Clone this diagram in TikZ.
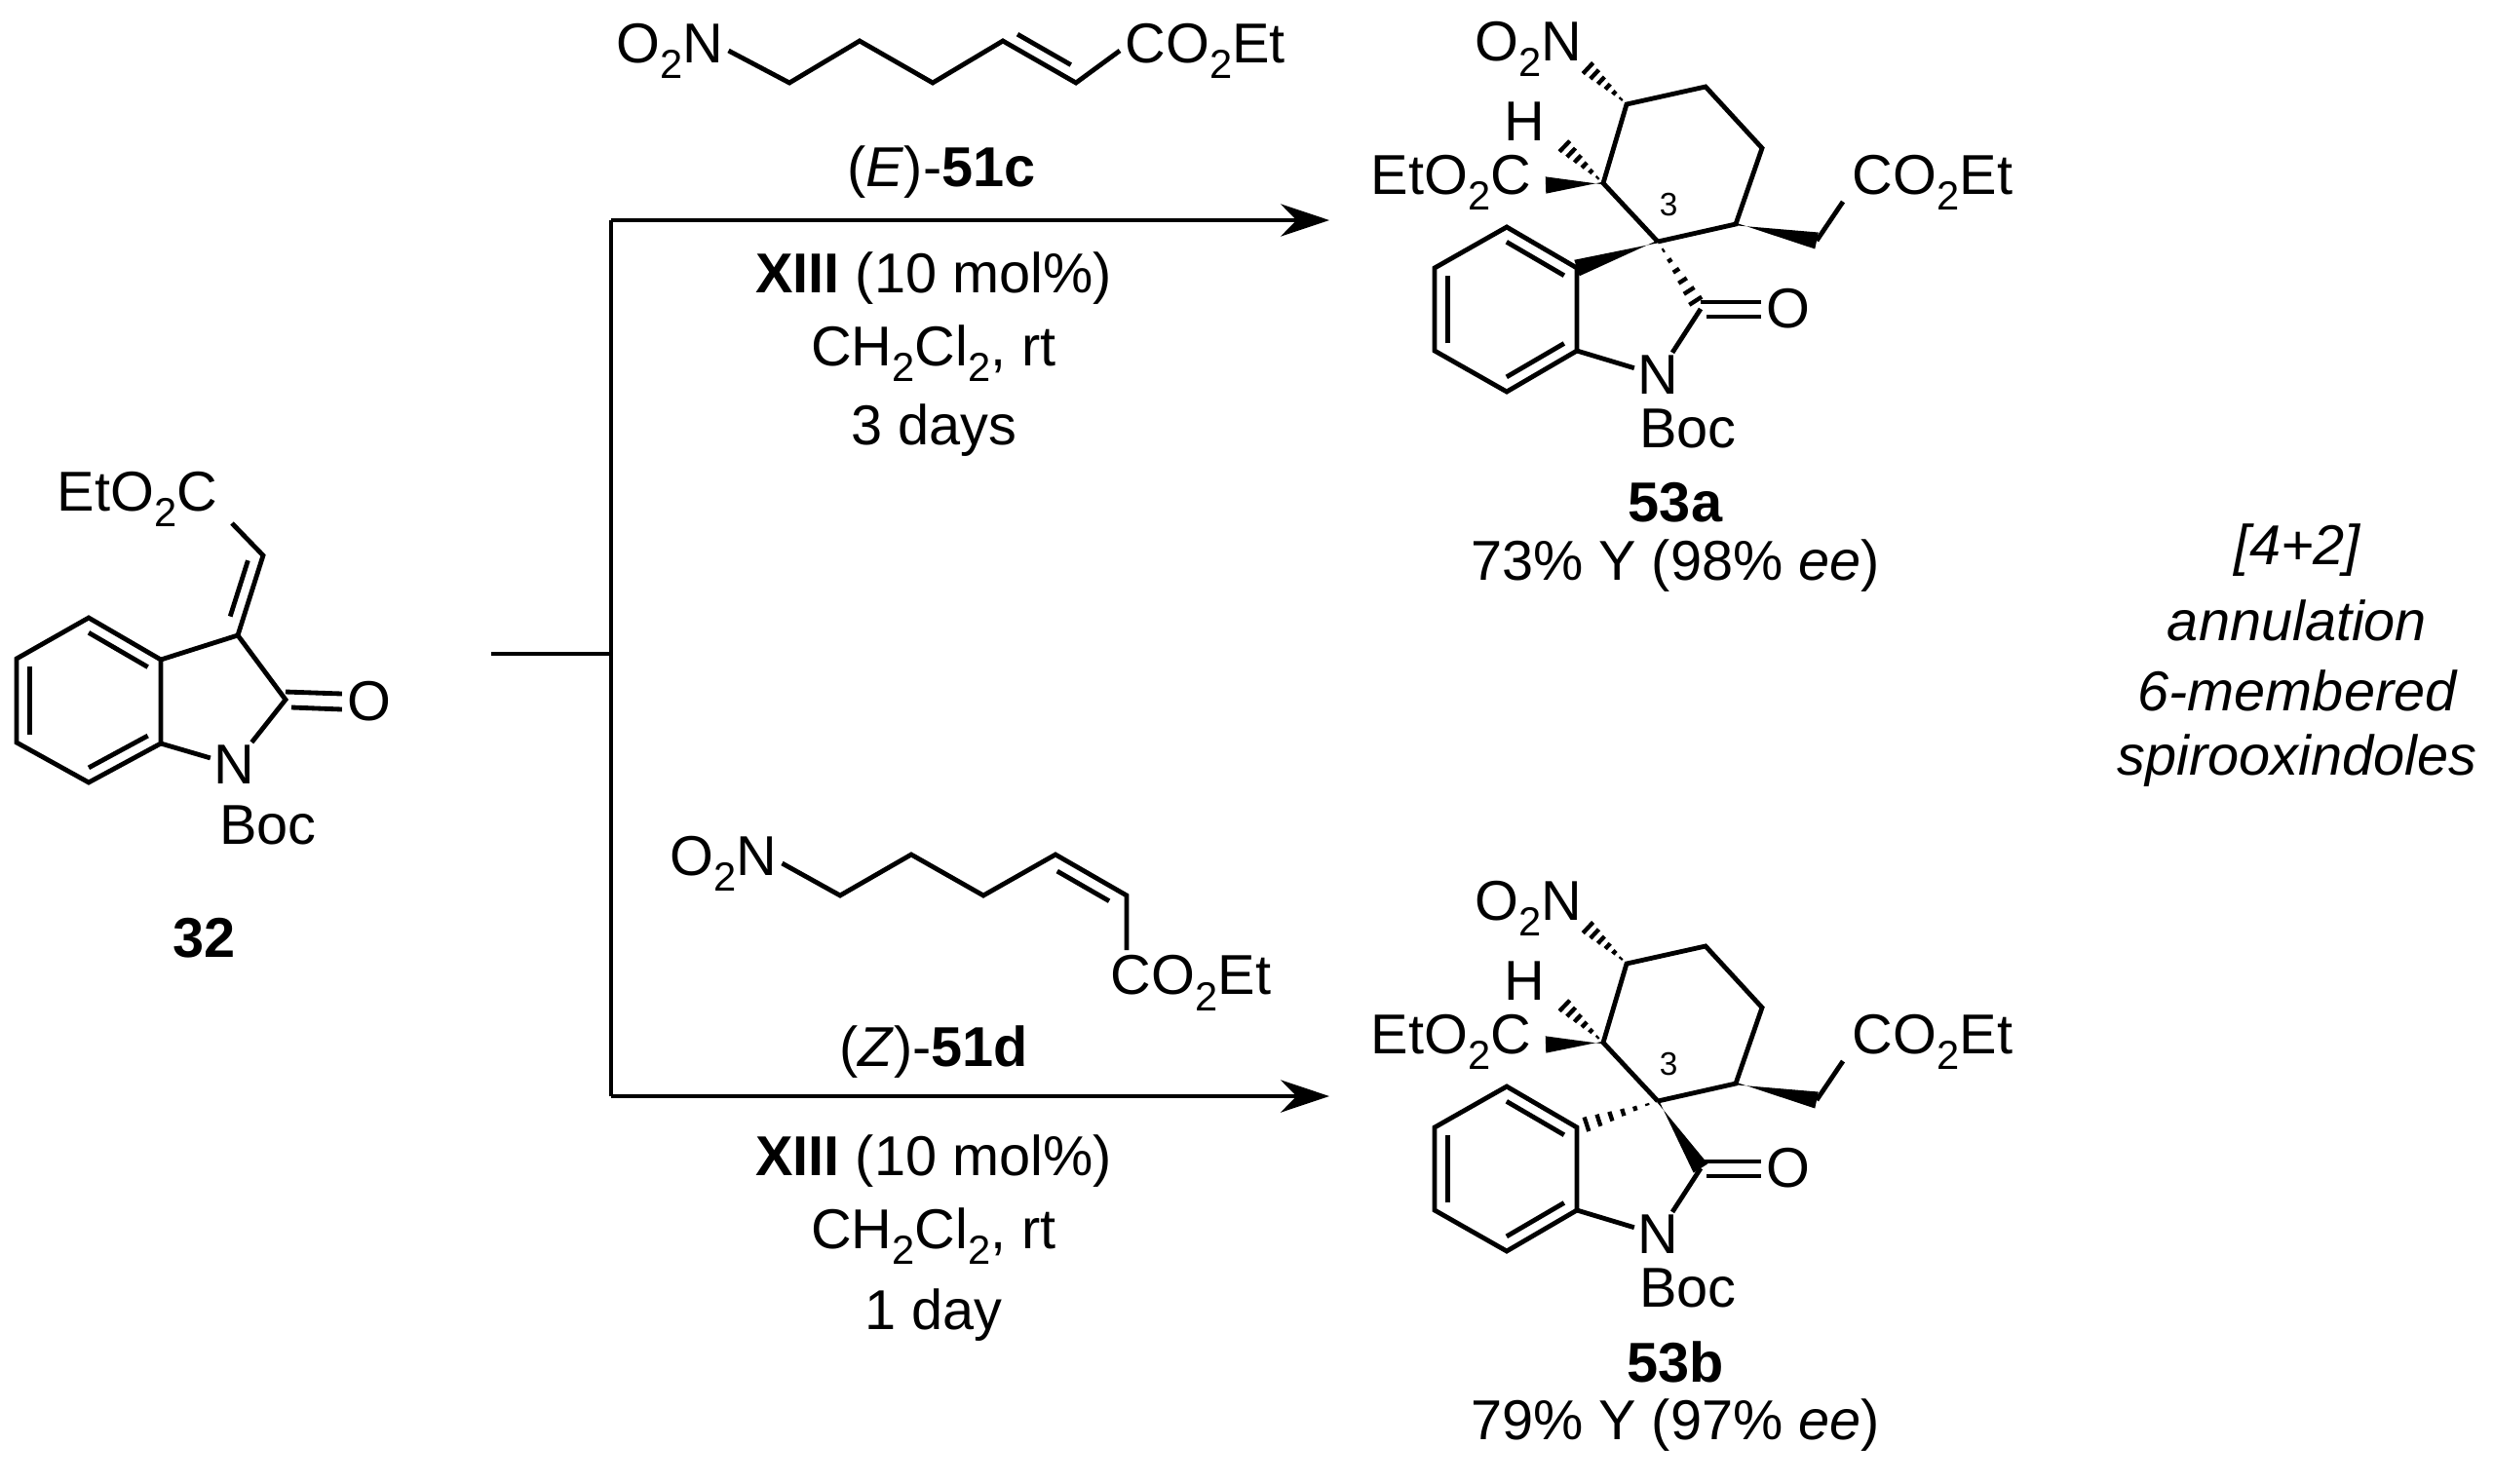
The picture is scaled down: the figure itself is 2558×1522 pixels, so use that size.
\documentclass[tikz,border=0pt]{standalone}
\usepackage{fontspec}
\setmainfont{Liberation Sans}
\usetikzlibrary{calc,arrows.meta}
\newcommand\sbs[1]{\raisebox{-0.28em}{\fontsize{12.5}{12.5}\selectfont #1}}
\newcommand\chemfont{\fontsize{17.3}{20}\selectfont}
\tikzset{
 bond/.style={line width=1.45pt},
 lbl/.style={inner sep=1.5pt, font=\chemfont},
 txt/.style={inner sep=0pt, font=\chemfont},
 arr/.style={line width=1.15pt, -{Stealth[length=15pt,width=10pt]}},
 plain/.style={line width=1.15pt},
}
\newcommand\wdg[2]{\fill ($#1!0.4pt!90:#2$) -- ($#2!2.6pt!90:#1$) -- ($#2!2.6pt!-90:#1$) -- ($#1!0.4pt!-90:#2$) -- cycle;}
\newcommand\hsh[2]{\foreach \t [evaluate=\t as \w using {\t*2.6}] in {0.13,0.28,0.43,0.58,0.73,0.88}{\draw[line width=1.3pt] ($#1!\t!#2!\w pt!90:#2$) -- ($#1!\t!#2!\w pt!-90:#2$);}}
\newcommand\inner[3]{\draw[bond] ($#3!0.82!#1$) -- ($#3!0.82!#2$);}
\newcommand\product[6]{
\begin{scope}[shift={(0,#1)}]
\coordinate (#2P1) at (1546,233); \coordinate (#2P2) at (1618,275);
\coordinate (#2P3) at (1618,360); \coordinate (#2P4) at (1546,402);
\coordinate (#2P5) at (1472,360); \coordinate (#2P6) at (1472,275);
\coordinate (#2Pc) at (1545,318);
\coordinate (#2C3) at (1701,248); \coordinate (#2C2) at (1745,317);
\coordinate (#2C4) at (1645,188); \coordinate (#2C5) at (1669,107);
\coordinate (#2C6) at (1750,89); \coordinate (#2C7) at (1808,152);
\coordinate (#2C8) at (1781,230);
\coordinate (#2Ee) at (1586,190); \coordinate (#2He) at (1600,145);
\coordinate (#2Ne) at (1624,65); \coordinate (#2Me) at (1864,247);
\coordinate (#2Mf) at (1891,207);
\node[lbl,inner sep=0.8pt] (#2N) at (1701,385) {N};
\node[lbl] (#2O) at (1835,317) {O};
\node[txt] (#2Boc) at (1732,440) {Boc};
\node[txt] (#2E) at (1489,187) {EtO\sbs2C};
\node[txt] (#2H) at (1564,125) {H};
\node[txt] (#2NO) at (1568,50) {O\sbs2N};
\node[txt] (#2CO) at (1983,187) {CO\sbs2Et};
\node[inner sep=0pt,font=\fontsize{10}{12}\selectfont] (#2three) at (1712,210) {3};
\draw[bond,line join=miter] (#2P1) -- (#2P2) -- (#2P3) -- (#2P4) -- (#2P5) -- (#2P6) -- cycle;
\inner{(#2P1)}{(#2P2)}{(#2Pc)} \inner{(#2P5)}{(#2P6)}{(#2Pc)} \inner{(#2P3)}{(#2P4)}{(#2Pc)}
\draw[bond] (#2P3) -- (#2N) -- (#2C2);
\draw[bond,line join=miter] (#2C3) -- (#2C4) -- (#2C5) -- (#2C6) -- (#2C7) -- (#2C8) -- (#2C3);
\draw[bond] ($(#2C2)+(0,-7)$) -- ($(#2O.west)+(0,-7)$);
\draw[bond] ($(#2C2)+(6,8)$) -- ($(#2O.west)+(0,8)$);
#3{(#2C3)}{(#2P2)}
#4{(#2C3)}{(#2C2)}
\wdg{(#2C4)}{(#2Ee)}
\hsh{(#2C4)}{(#2He)}
\hsh{(#2C5)}{(#2Ne)}
\wdg{(#2C8)}{(#2Me)}
\draw[bond] (#2Me) -- (#2Mf);
\node[txt,font=\chemfont\bfseries] (#2lab) at (1719,516) {#5};
\node[txt] (#2yld) at (1719,581) {#6};
\end{scope}}
\begin{document}
\begin{tikzpicture}[x=0.3pt,y=-0.3pt]
\useasboundingbox (0,0) rectangle (2558,1522);
% ---- compound 32
\coordinate (b1) at (91,634); \coordinate (b2) at (165,677);
\coordinate (b3) at (165,763); \coordinate (b4) at (91,803);
\coordinate (b5) at (17,762); \coordinate (b6) at (17,676);
\coordinate (bc) at (91,719);
\coordinate (s3) at (244,652); \coordinate (s2) at (293,718);
\coordinate (sch) at (270,570); \coordinate (sce) at (238,537);
\node[lbl,inner sep=0.8pt] (sN) at (240,785) {N};
\node[lbl] (sO) at (379,720) {O};
\node[txt] (sE) at (141,512) {EtO\sbs2C};
\node[txt] (sBoc) at (275,847) {Boc};
\node[txt,font=\chemfont\bfseries] (sL) at (210,963) {32};
\draw[bond,line join=miter] (b1) -- (b2) -- (b3) -- (b4) -- (b5) -- (b6) -- cycle;
\inner{(b1)}{(b2)}{(bc)} \inner{(b5)}{(b6)}{(bc)} \inner{(b3)}{(b4)}{(bc)}
\draw[bond,line join=miter] (b2) -- (s3) -- (s2) -- (sN) -- (b3);
\draw[bond,line join=miter] (s3) -- (sch) -- (sce);
\draw[bond] ($(s3)!0.2!(sch)+(-13,-3)$) -- ($(s3)!0.9!(sch)+(-13,-3)$);
\draw[bond] ($(s2)+(0,-8)$) -- ($(sO.west)+(0,-8)$);
\draw[bond] ($(s2)+(6,8)$) -- ($(sO.west)+(0,8)$);
% ---- arrows
\coordinate (vt) at (627,226); \coordinate (vb) at (627,1125);
\coordinate (st) at (504,671); \coordinate (sm) at (627,671);
\coordinate (at) at (1364,226); \coordinate (ab) at (1364,1125);
\draw[plain] (st) -- (sm);
\draw[plain] (vt) -- (vb);
\draw[arr] (vt) -- (at);
\draw[arr] (vb) -- (ab);
% ---- top reagent
\node[lbl] (tN) at (687,52) {O\sbs2N};
\node[lbl,anchor=west] (tC) at (1149,52) {CO\sbs2Et};
\coordinate (t1) at (810,85); \coordinate (t2) at (882,42); \coordinate (t3) at (957,85);
\coordinate (t4) at (1029,42); \coordinate (t5) at (1104,85);
\draw[bond,line join=miter] (tN.east) -- (t1) -- (t2) -- (t3) -- (t4) -- (t5) -- (tC.west);
\draw[bond] ($(t4)!0.12!(t5)+(6,-12)$) -- ($(t4)!0.85!(t5)+(6,-12)$);
\node[txt] (tlab) at (966,177) {(\textit{E})-\textbf{51c}};
\node[txt] (tc1) at (958,286) {\textbf{XIII} (10 mol\%)};
\node[txt] (tc2) at (958,363) {CH\sbs2Cl\sbs2, rt};
\node[txt] (tc3) at (958,442) {3 days};
% ---- bottom reagent
\node[lbl] (uN) at (742,886) {O\sbs2N};
\node[lbl,anchor=north] (uC) at (1222,975) {CO\sbs2Et};
\coordinate (u1) at (862,919); \coordinate (u2) at (935,877); \coordinate (u3) at (1009,919);
\coordinate (u4) at (1083,877); \coordinate (u5) at (1156,919);
\draw[bond,line join=miter] (uN.east) -- (u1) -- (u2) -- (u3) -- (u4) -- (u5) -- (u5 |- uC.north);
\draw[bond] ($(u4)!0.12!(u5)+(-7,12)$) -- ($(u4)!0.85!(u5)+(-7,12)$);
\node[txt] (ulab) at (958,1080) {(\textit{Z})-\textbf{51d}};
\node[txt] (uc1) at (958,1192) {\textbf{XIII} (10 mol\%)};
\node[txt] (uc2) at (958,1269) {CH\sbs2Cl\sbs2, rt};
\node[txt] (uc3) at (958,1350) {1 day};
% ---- products
\product{0}{a}{\wdg}{\hsh}{53a}{73\% Y (98\% \textit{ee})}
\product{882}{b}{\hsh}{\wdg}{53b}{79\% Y (97\% \textit{ee})}
% ---- side text
\node[txt,font=\chemfont\itshape] (r1) at (2357,565) {[4+2]};
\node[txt,font=\chemfont\itshape] (r2) at (2357,637) {annulation};
\node[txt,font=\chemfont\itshape] (r3) at (2357,709) {6-membered};
\node[txt,font=\chemfont\itshape] (r4) at (2357,781) {spirooxindoles};
\end{tikzpicture}
\end{document}
